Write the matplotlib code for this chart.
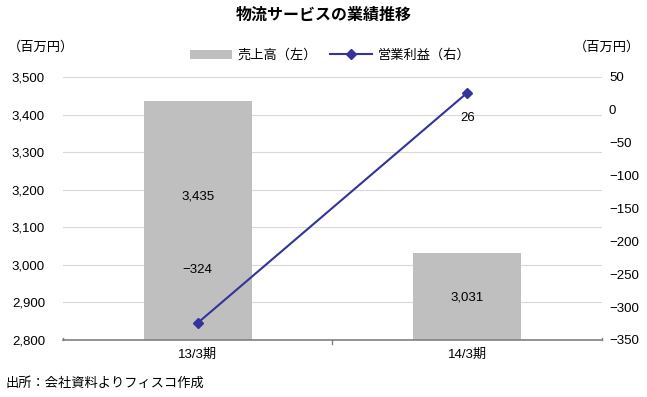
import matplotlib.pyplot as plt
import numpy as np

plt.rcParams['font.family'] = ['Liberation Sans', 'Noto Sans CJK JP', 'DejaVu Sans']
plt.rcParams['axes.unicode_minus'] = True

# データ
periods = ['13/3期', '14/3期']
sales = [3435, 3031]          # 売上高（左）
op_profit = [-324, 26]        # 営業利益（右）
sales_labels = ['3,435', '3,031']
profit_labels = ['−324', '26']

fig = plt.figure(figsize=(6.47, 3.97), dpi=100)
ax = fig.add_axes([0.0974, 0.1436, 0.833, 0.6625])
ax2 = ax.twinx()

x = np.arange(len(periods))
bars = ax.bar(x, [s - 2800 for s in sales], bottom=2800, width=0.4,
              color='#BFBFBF', label='売上高（左）', zorder=2)
ax.set_xlim(-0.5, 1.5)
ax.set_ylim(2800, 3500)
ax.set_yticks(range(2800, 3501, 100))
ax.set_yticklabels([f'{v:,}' for v in range(2800, 3501, 100)])
ax.grid(axis='y', color='#D9D9D9', linewidth=0.8, zorder=0)
ax.set_axisbelow(True)
ax.set_xticks(x)
ax.set_xticklabels(periods)
ax.tick_params(axis='both', length=0, labelsize=9.5, colors='black')
ax.tick_params(axis='y', pad=13)
ax.tick_params(axis='x', pad=6)
for s in ['top', 'left', 'right']:
    ax.spines[s].set_visible(False)
ax.spines['bottom'].set_color('#808080')
ax.spines['bottom'].set_linewidth(1.2)
# 区切り目盛
for xv in [-0.5, 0.5, 1.5]:
    ax.plot([xv, xv], [2800, 2805 if xv != 0.5 else 2790], color='#808080',
            lw=1.0, clip_on=False, zorder=3)

line, = ax2.plot(x, op_profit, color='#333399', marker='D', markersize=5,
                 linewidth=1.5, label='営業利益（右）', zorder=4)
ax2.set_ylim(-350, 50)
ax2.set_yticks(range(-350, 51, 50))
ax2.tick_params(axis='y', length=0, labelsize=9.5, pad=5)
for s in ['top', 'left', 'right', 'bottom']:
    ax2.spines[s].set_visible(False)

# データラベル
ax.text(0, 3183, sales_labels[0], ha='center', va='center', fontsize=9.5)
ax.text(1, 2914, sales_labels[1], ha='center', va='center', fontsize=9.5)
ax2.text(0, -243, profit_labels[0], ha='center', va='center', fontsize=9.5)
ax2.text(1, -12, profit_labels[1], ha='center', va='center', fontsize=9.5)

fig.text(0.5, 0.963, '物流サービスの業績推移', ha='center', va='center',
         fontsize=11.5, fontweight='bold', family=['Noto Sans CJK JP'])
fig.text(0.012, 0.882, '（百万円）', ha='left', va='center', fontsize=9.5,
         family=['Noto Sans CJK JP'])
fig.text(0.99, 0.882, '（百万円）', ha='right', va='center', fontsize=9.5,
         family=['Noto Sans CJK JP'])
fig.text(0.008, 0.035, '出所：会社資料よりフィスコ作成', ha='left', va='center',
         fontsize=9.5, family=['Noto Sans CJK JP'])

leg = fig.legend(handles=[bars, line], loc='center', bbox_to_anchor=(0.51, 0.86),
                 ncol=2, frameon=False, handlelength=3.2,
                 columnspacing=1.0, handletextpad=0.4,
                 prop={'family': ['Noto Sans CJK JP'], 'size': 9.5})

fig.savefig('out.png', dpi=100)
